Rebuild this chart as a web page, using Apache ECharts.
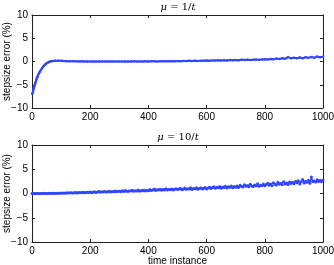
<!DOCTYPE html>
<html><head><meta charset="utf-8">
<script src="https://cdn.jsdelivr.net/npm/echarts@6/dist/echarts.min.js"></script>
<style>html,body{margin:0;padding:0;background:#fff}#c{width:334px;height:265px}</style>
</head><body><div id="c"></div>
<script>
var xTicks = [0, 200, 400, 600, 800, 1000];
var yTicks = [-10, -5, 0, 5, 10];
var titleNums = ['1', '10'];
var xLabel = 'time instance';
var yLabel = 'stepsize error (%)';

// top panel (mu = 1/t)
var tTop = [1,2,4,6,8,10,12,14,16,18,20,23,26,30,34,38,42,46,50,55,60,65,70,80,90,100,110,120,
  130,140,150,160,170,180,190,200,
  210,220,230,240,250,260,270,280,290,300,
  310,320,330,340,350,360,370,380,390,400,
  410,420,430,440,450,460,470,480,490,500,
  510,520,530,540,550,560,570,580,590,600,
  610,620,630,640,650,660,670,680,690,700,
  710,720,730,740,750,760,770,780,790,800,
  810,820,830,840,850,860,870,880,890,900,
  910,920,930,940,950,960,970,980,990,1000];
var errTop = [-7.0,-6.8,-6.3,-5.8,-5.3,-4.9,-4.5,-4.1,-3.7,-3.4,-3.1,-2.7,-2.3,-1.9,-1.5,-1.15,-0.85,-0.6,-0.4,-0.2,-0.05,0.05,0.12,0.18,0.18,0.15,0.1,0.07,
  0.05,0.03,0.04,0.02,0.03,0.01,0.02,0.0,
  0.01,-0.01,0.02,0.0,-0.02,0.01,0.0,0.02,-0.01,0.01,
  0.0,0.02,0.01,-0.01,0.03,0.0,0.02,0.01,0.04,0.02,
  0.03,0.05,0.02,0.06,0.04,0.07,0.05,0.08,0.06,0.1,
  0.08,0.12,0.1,0.14,0.11,0.16,0.13,0.18,0.15,0.2,
  0.17,0.22,0.19,0.25,0.2,0.28,0.23,0.3,0.26,0.32,
  0.28,0.36,0.3,0.4,0.33,0.38,0.45,0.35,0.42,0.5,
  0.45,0.55,0.48,0.62,0.52,0.7,0.58,0.95,0.68,0.8,
  0.72,0.85,0.7,0.9,0.78,0.95,0.82,1.05,0.9,1.0];

// bottom panel (mu = 10/t), t = 0,5,...,1000
var errBot = [
  0.0,0.02,-0.01,0.01,0.0,0.02,-0.02,0.01,0.03,0.0,0.02,0.01,0.04,0.0,0.03,0.05,0.02,0.06,0.03,0.05,
  0.08,0.04,0.12,0.06,0.15,0.09,0.13,0.18,0.1,0.16,0.2,0.12,0.22,0.15,0.19,0.26,0.14,0.23,0.28,0.2,
  0.3,0.18,0.27,0.35,0.22,0.31,0.4,0.26,0.36,0.29,0.42,0.3,0.38,0.45,0.31,0.4,0.34,0.5,0.37,0.44,
  0.48,0.36,0.55,0.42,0.6,0.47,0.39,0.58,0.5,0.66,0.45,0.57,0.52,0.7,0.48,0.62,0.55,0.74,0.51,0.64,
  0.58,0.8,0.62,0.72,0.95,0.6,0.78,0.7,0.88,0.66,0.82,0.74,0.98,0.7,0.85,0.77,0.92,0.72,0.87,1.0,
  0.8,0.95,1.08,0.78,0.9,1.12,0.86,1.0,0.93,1.18,0.84,1.05,0.97,1.2,0.9,1.02,1.15,0.94,1.08,1.25,
  0.95,1.15,1.3,1.02,1.22,1.4,1.08,1.27,1.18,1.45,1.1,1.33,1.24,1.5,1.15,1.38,1.28,1.55,1.2,1.42,
  1.3,1.55,1.25,1.7,1.45,1.35,1.8,1.5,1.62,1.38,1.9,1.55,1.45,1.75,1.6,2.0,1.5,1.72,1.65,1.95,
  1.6,1.85,2.1,1.7,1.95,1.62,2.2,1.88,1.75,2.3,1.9,2.05,1.8,2.4,1.95,2.15,1.85,2.35,2.05,2.25,
  2.0,2.5,2.2,2.65,1.95,2.4,2.9,2.15,2.55,2.3,2.75,2.1,3.4,2.45,2.6,2.35,2.85,2.5,2.7,2.4,2.8];
var tBot = errBot.map(function(_, i){ return i * 5; });

var blue = '#2f45ff';
var axisColor = '#222';
var font = 'Liberation Sans, Arial, sans-serif';
function minus(v){ return String(v).replace('-', '\u2212'); }
function plain(v){ return String(v); }

var grids = [
  {left: 32, top: 15, width: 291, height: 93, outerBoundsMode: 'none', containLabel: false},
  {left: 32, top: 145, width: 291, height: 97, outerBoundsMode: 'none', containLabel: false}
];
var xAxes = [], yAxes = [];
[0,1].forEach(function(g){
  var base = {gridIndex: g, type: 'value', min: 0, max: 1000, interval: 200,
    axisLine: {show: true, onZero: false, lineStyle: {color: axisColor, width: 1}},
    axisTick: {show: true, inside: true, length: 3, lineStyle: {color: axisColor}},
    splitLine: {show: false}};
  xAxes.push(Object.assign({}, base, {position: 'bottom',
    axisLabel: {color: '#000', fontSize: 10, fontFamily: font, margin: 4, formatter: plain},
    name: g === 1 ? xLabel : '', nameLocation: 'middle', nameGap: 14, nameMoveOverlap: false,
    nameTextStyle: {color: '#000', fontSize: 10, fontFamily: font}}));
  xAxes.push(Object.assign({}, base, {position: 'top', axisLabel: {show: false}}));
  var ybase = {gridIndex: g, type: 'value', min: -10, max: 10, interval: 5,
    axisLine: {show: true, onZero: false, lineStyle: {color: axisColor, width: 1}},
    axisTick: {show: true, inside: true, length: 3, lineStyle: {color: axisColor}},
    splitLine: {show: false}};
  yAxes.push(Object.assign({}, ybase, {position: 'left',
    axisLabel: {color: '#000', fontSize: 10, fontFamily: font, margin: 4, formatter: minus},
    name: yLabel, nameLocation: 'middle', nameGap: 20, nameMoveOverlap: false,
    nameTextStyle: {color: '#000', fontSize: 10, fontFamily: font}}));
  yAxes.push(Object.assign({}, ybase, {position: 'right', axisLabel: {show: false}}));
});

function makeTitle(num, top){
  return {text: '{i|μ} = ' + num + '/{i|t}',
    left: 178, top: top, textAlign: 'center', padding: 0,
    textStyle: {fontSize: 10, fontFamily: 'DejaVu Serif, serif', fontWeight: 'normal', color: '#000',
      rich: {i: {fontStyle: 'italic', fontSize: 10, fontFamily: 'DejaVu Serif, serif'}}}};
}

var topData = tTop.map(function(t, i){ return [t, errTop[i]]; });
var botData = tBot.map(function(t, i){ return [t, errBot[i]]; });

var chart = echarts.init(document.getElementById('c'), null, {renderer: 'canvas'});
chart.setOption({
  animation: false,
  title: [makeTitle(titleNums[0], 2), makeTitle(titleNums[1], 132)],
  grid: grids,
  xAxis: xAxes,
  yAxis: yAxes,
  series: [
    {type: 'line', xAxisIndex: 0, yAxisIndex: 0, data: topData, symbol: 'circle', symbolSize: 2.5,
      showAllSymbol: true, lineStyle: {color: blue, width: 2}, itemStyle: {color: blue}},
    {type: 'line', xAxisIndex: 2, yAxisIndex: 2, data: botData, symbol: 'circle', symbolSize: 3,
      showAllSymbol: true, lineStyle: {color: blue, width: 1.4}, itemStyle: {color: blue}}
  ]
});
</script></body></html>
